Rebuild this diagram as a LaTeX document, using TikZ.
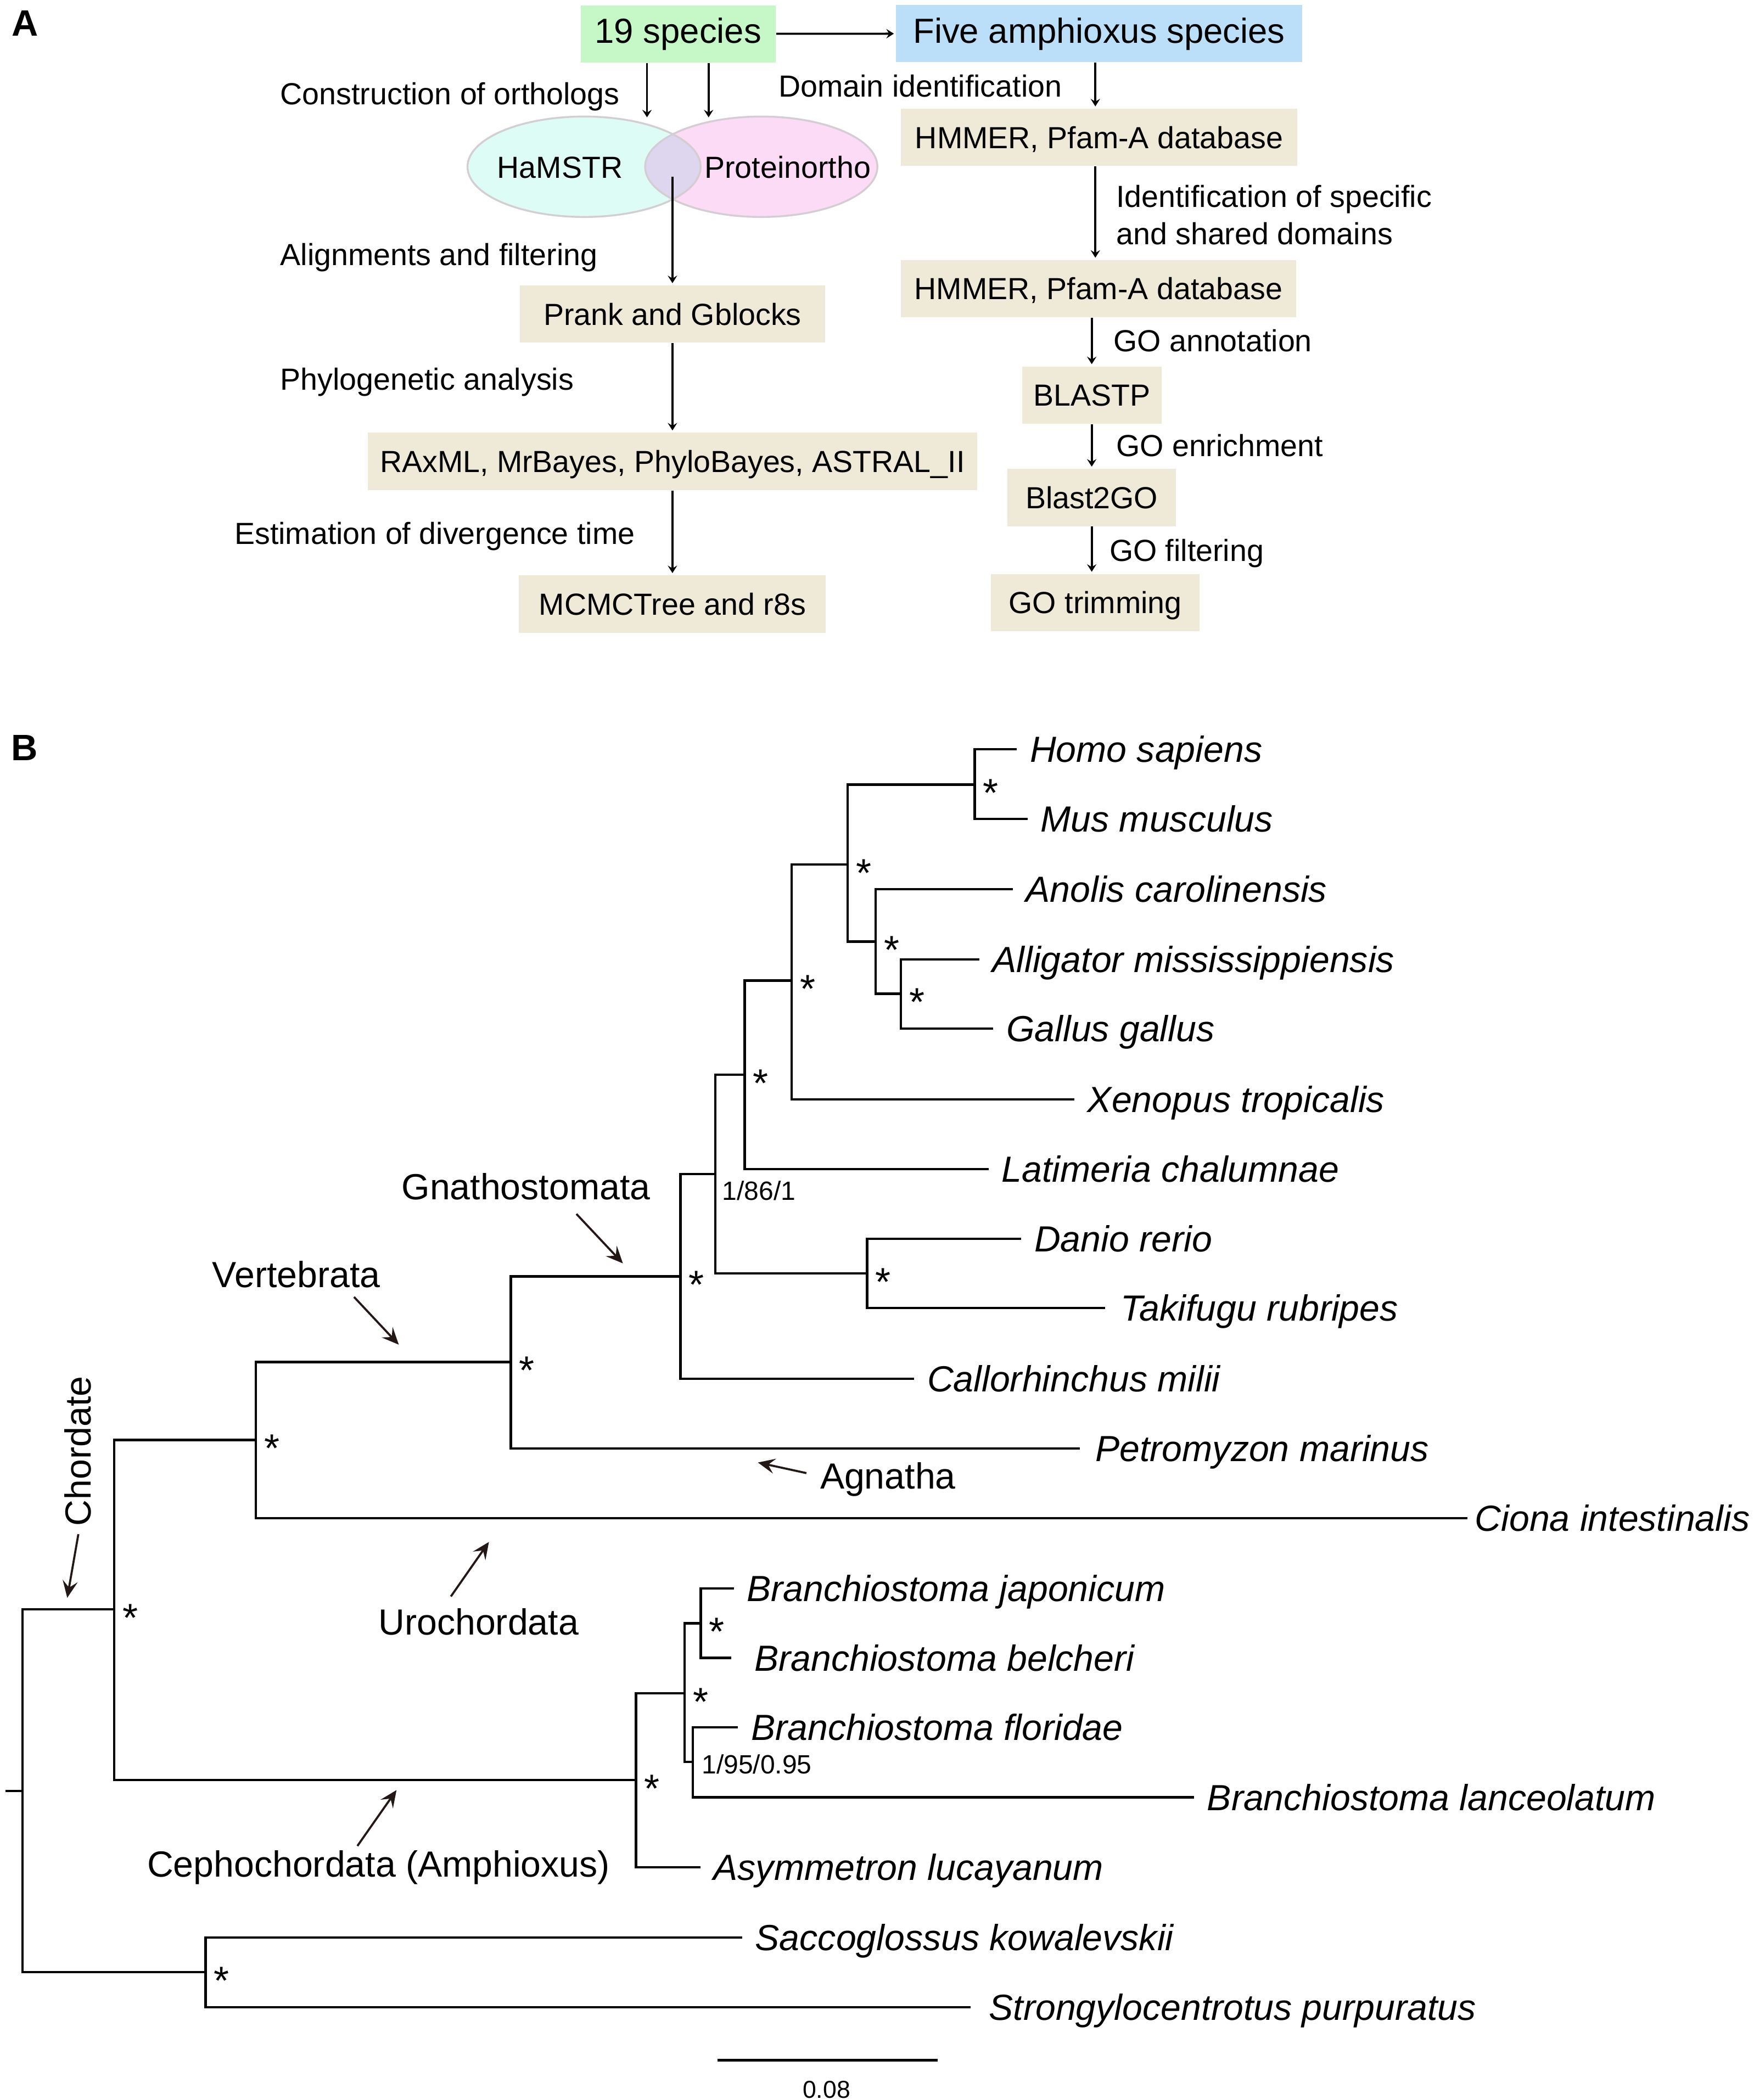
\documentclass[tikz,border=0pt]{standalone}
\usepackage{fontspec}
\setmainfont{Liberation Sans}
\usetikzlibrary{arrows.meta,shapes.geometric}

\definecolor{speciesgreen}{RGB}{198,247,198}
\definecolor{amphiblue}{RGB}{187,223,249}
\definecolor{boxtan}{RGB}{239,233,216}
\definecolor{hamcyan}{RGB}{222,252,246}
\definecolor{propink}{RGB}{251,219,245}
\definecolor{ovlpurple}{RGB}{221,214,238}
\definecolor{venngray}{RGB}{212,206,210}
\definecolor{arrowdark}{RGB}{35,24,21}

\begin{document}
\begin{tikzpicture}[
  x=0.025cm, y=-0.025cm,
  box/.style={rectangle, fill=boxtan, minimum height=1.07cm, inner sep=0pt, font=\fontsize{16.2}{19}\selectfont, text height=11.6pt, text depth=0pt},
  topbox/.style={box, font=\fontsize{18.5}{22}\selectfont, text height=13.3pt, text depth=3.3pt},
  lbl/.style={anchor=west, inner sep=0pt, font=\fontsize{16.2}{19}\selectfont, text height=11.6pt, text depth=0pt},
  arrow/.style={-{Stealth[length=4pt,width=5pt,inset=1.5pt]}, line width=1.1pt, shorten >=1pt},
  venn/.style={ellipse, minimum width=4.35cm, minimum height=1.875cm, inner sep=0pt},
  vennline/.style={draw=venngray, line width=1pt},
  branch/.style={line width=1.3pt},
  leaf/.style={anchor=west, inner xsep=6.8pt, inner ysep=0pt, font=\fontsize{19.3}{23}\selectfont\itshape, text height=13.8pt, text depth=0pt},
  clade/.style={anchor=west, inner sep=0pt, font=\fontsize{19.3}{23}\selectfont, text height=13.8pt, text depth=0pt},
  pointer/.style={-{Stealth[length=9pt,width=8pt,inset=3.5pt]}, line width=1.1pt, draw=arrowdark},
  ast/.style={anchor=base, inner sep=0pt, font=\fontsize{21}{25}\selectfont},
  support/.style={anchor=west, inner sep=0pt, font=\fontsize{14}{16}\selectfont, text height=10pt, text depth=0pt},
  panel/.style={anchor=west, inner sep=0pt, font=\fontsize{19.5}{23}\selectfont\bfseries, text height=14pt, text depth=0pt}
]
  \useasboundingbox (0,0) rectangle (1309,1568);

  % A: workflow
  \node[panel] (labA) at (8.4,16.9) {A};
  \node[topbox, fill=speciesgreen, minimum width=3.64cm] (sp19) at (506.3,25.3) {19 species};
  \node[topbox, fill=amphiblue, minimum width=7.575cm] (five) at (820.5,25) {Five amphioxus species};
  \draw[arrow] (sp19) -- (five);

  \node[lbl] (consLab) at (209,69.9) {Construction of orthologs};
  \coordinate (inHam) at (483,89);
  \coordinate (inPro) at (529,89);
  \draw[arrow] (sp19.south -| inHam) -- (inHam);
  \draw[arrow] (sp19.south -| inPro) -- (inPro);

  \node[venn, fill=hamcyan] (hamE) at (436,124.5) {};
  \node[venn, fill=propink] (proE) at (568.3,124.5) {};
  \begin{scope}
    \clip (hamE.center) ellipse [x radius=87, y radius=37.5];
    \fill[ovlpurple] (proE.center) ellipse [x radius=86.7, y radius=37.5];
  \end{scope}
  \draw[vennline] (hamE.center) ellipse [x radius=87, y radius=37.5];
  \draw[vennline] (proE.center) ellipse [x radius=86.7, y radius=37.5];
  \node[lbl, anchor=center] (hamT) at (418,124.8) {HaMSTR};
  \node[lbl, anchor=center] (proT) at (588,124.8) {Proteinortho};

  \node[lbl] (alignLab) at (209,190.1) {Alignments and filtering};
  \node[box, minimum width=5.7cm] (prank) at (502,234.5) {Prank and Gblocks};
  \node[lbl] (phyloLab) at (209,283.1) {Phylogenetic analysis};
  \node[box, minimum width=11.375cm] (raxml) at (502,344.5) {RAxML, MrBayes, PhyloBayes, ASTRAL\_II};
  \node[lbl] (divLab) at (174.8,398) {Estimation of divergence time};
  \node[box, minimum width=5.725cm] (mcmc) at (502,451) {MCMCTree and r8s};
  \coordinate (ovl) at (502,132);
  \draw[arrow] (ovl) -- (prank);
  \draw[arrow] (prank) -- (raxml);
  \draw[arrow] (raxml) -- (mcmc);

  \node[lbl] (domLab) at (581,64.3) {Domain identification};
  \node[box, minimum width=7.39cm] (hmm1) at (820.5,102.5) {HMMER, Pfam-A database};
  \node[lbl] (specLab) at (833,146.6) {Identification of specific};
  \node[lbl] (sharLab) at (833,174.5) {and shared domains};
  \node[box, minimum width=7.375cm] (hmm2) at (820,215.5) {HMMER, Pfam-A database};
  \node[lbl] (annLab) at (831,254.5) {GO annotation};
  \node[box, minimum width=2.6cm] (blastp) at (815,295) {BLASTP};
  \node[lbl] (enrLab) at (833,332.5) {GO enrichment};
  \node[box, minimum width=3.15cm] (b2go) at (815,371.5) {Blast2GO};
  \node[lbl] (filtLab) at (828,410.9) {GO filtering};
  \node[box, minimum width=3.89cm] (gotrim) at (817.7,450) {GO trimming};
  \draw[arrow] (five.south -| gotrim) -- (hmm1.north -| gotrim);
  \draw[arrow] (hmm1.south -| gotrim) -- (hmm2.north -| gotrim);
  \draw[arrow] (hmm2.south -| blastp) -- (blastp);
  \draw[arrow] (blastp) -- (b2go);
  \draw[arrow] (b2go.south -| blastp) -- (gotrim.north -| blastp);

  % B: tree
  \node[panel] (labB) at (8.2,557.8) {B};
  \coordinate (stub) at (4.2,1337.3);
  \coordinate (root) at (16.7,1337.3);
  \coordinate (chord) at (85.3,1201.5);
  \coordinate (amb) at (153.5,1472.5);
  \coordinate (olfac) at (191,1075.2);
  \coordinate (vert) at (381.4,1017);
  \coordinate (gnath) at (508,953);
  \coordinate (oste) at (534,876.7);
  \coordinate (sarc) at (556,802.5);
  \coordinate (tetra) at (591,732.2);
  \coordinate (amni) at (632.8,645.5);
  \coordinate (mamm) at (727.7,585.9);
  \coordinate (saur) at (653.7,703);
  \coordinate (arch) at (672.5,742);
  \coordinate (actino) at (647.4,950.7);
  \coordinate (ceph) at (474.7,1329);
  \coordinate (bran) at (511,1264.2);
  \coordinate (jb) at (523.2,1212);
  \coordinate (fl) at (517.3,1315.6);

  \node[leaf] (homo) at (759,559.4) {Homo sapiens};
  \node[leaf] (mus) at (767,611.5) {Mus musculus};
  \node[leaf] (anolis) at (756,663.8) {Anolis carolinensis};
  \node[leaf] (alli) at (731,716.4) {Alligator mississippiensis};
  \node[leaf] (gallus) at (741.5,768) {Gallus gallus};
  \node[leaf] (xeno) at (802,820.8) {Xenopus tropicalis};
  \node[leaf] (lati) at (738,873) {Latimeria chalumnae};
  \node[leaf] (danio) at (762.3,925) {Danio rerio};
  \node[leaf, inner xsep=8pt] (taki) at (825,976.7) {Takifugu rubripes};
  \node[leaf] (callo) at (682.4,1029.4) {Callorhinchus milii};
  \node[leaf, inner xsep=8.2pt] (petro) at (806,1081.6) {Petromyzon marinus};
  \node[leaf, inner xsep=3.8pt] (ciona) at (1095.5,1133.6) {Ciona intestinalis};
  \node[leaf] (japo) at (547.8,1186) {Branchiostoma japonicum};
  \node[leaf, inner xsep=12.3pt] (belch) at (545.7,1237.9) {Branchiostoma belcheri};
  \node[leaf] (flori) at (551,1289.8) {Branchiostoma floridae};
  \node[leaf] (lanc) at (891.3,1342) {Branchiostoma lanceolatum};
  \node[leaf] (asym) at (522.8,1394.3) {Asymmetron lucayanum};
  \node[leaf] (sacco) at (554,1446.6) {Saccoglossus kowalevskii};
  \node[leaf, inner xsep=9.7pt] (strongy) at (724.4,1498.8) {Strongylocentrotus purpuratus};

  \draw[branch] (stub) -- (root);
  \foreach \p/\c in {root/chord, root/amb, chord/olfac, chord/ceph, olfac/vert, olfac/ciona,
      vert/gnath, vert/petro, gnath/oste, gnath/callo, oste/sarc, oste/actino, sarc/tetra,
      sarc/lati, tetra/amni, tetra/xeno, amni/mamm, amni/saur, mamm/homo, mamm/mus,
      saur/anolis, saur/arch, arch/alli, arch/gallus, actino/danio, actino/taki,
      ceph/bran, ceph/asym, bran/jb, bran/fl, jb/japo, jb/belch, fl/flori, fl/lanc,
      amb/sacco, amb/strongy}
    \draw[branch] (\p) |- (\c);

  \foreach \n in {mamm,amni,saur,arch,tetra,sarc,actino,gnath,vert,olfac,chord,ceph,bran,jb,amb}
    \node[ast] (star-\n) at ([shift={(12,16.5)}]\n) {*};

  \node[support] (bs86) at (539,889) {1/86/1};
  \node[support] (bs95) at (523.6,1317.2) {1/95/0.95};

  \node[clade] (gnathLab) at (299.5,886.1) {Gnathostomata};
  \node[clade] (vertLab) at (158.2,951.5) {Vertebrata};
  \node[clade, anchor=center, rotate=90] (chordLab) at (58.2,1083.5) {Chordate};
  \node[clade] (agnLab) at (612,1102) {Agnatha};
  \node[clade] (uroLab) at (282.3,1211) {Urochordata};
  \node[clade] (cephLab) at (109.6,1391.5) {Cephochordata (Amphioxus)};

  \coordinate (gnathTail) at (430.3,906.4);
  \coordinate (gnathTip) at (465,943.3);
  \coordinate (vertTail) at (264.3,968.4);
  \coordinate (vertTip) at (297.7,1004);
  \coordinate (chordTail) at (58.5,1145.5);
  \coordinate (chordTip) at (50.2,1193);
  \coordinate (agnTail) at (602,1099.9);
  \coordinate (agnTip) at (565.8,1092);
  \coordinate (uroTail) at (336.6,1192);
  \coordinate (uroTip) at (365,1151.3);
  \coordinate (cephTail) at (266.8,1378.3);
  \coordinate (cephTip) at (296,1336.6);
  \foreach \c in {gnath,vert,chord,agn,uro,ceph}
    \draw[pointer] (\c Tail) -- (\c Tip);

  \coordinate (bar0) at (535.6,1538.3);
  \coordinate (bar1) at (699.8,1538.3);
  \draw[branch] (bar0) -- (bar1);
  \node[inner sep=0pt, font=\fontsize{13}{15}\selectfont, text height=9.3pt, text depth=0pt] (barLab) at (617,1560) {0.08};
\end{tikzpicture}
\end{document}
